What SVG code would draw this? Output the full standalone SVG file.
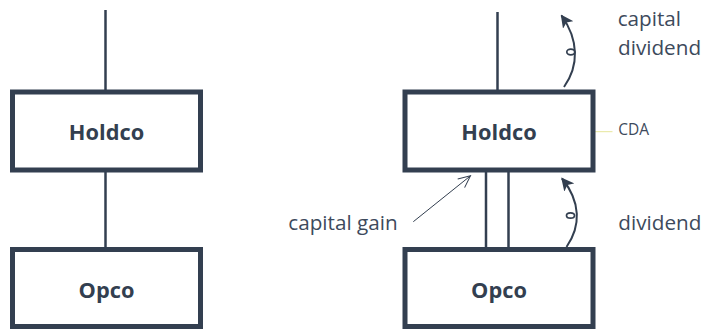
<svg xmlns="http://www.w3.org/2000/svg" width="705" height="329" viewBox="0 0 705 329">
<defs>
<style>
.box{fill:#fff;stroke:#333f50;stroke-width:5}
.name{font-family:"Open Sans","Noto Sans",sans-serif;font-weight:bold;font-size:21.8px;fill:#333f50;text-anchor:middle}
.lbl{font-family:"Open Sans","Noto Sans",sans-serif;font-size:20.7px;fill:#3d4a5c}
.small{font-family:"Open Sans","Noto Sans",sans-serif;font-size:15.5px;fill:#3d4a5c}
.tie{stroke:#333f50;stroke-width:2.5;fill:none}
.flow{stroke:#333f50;stroke-width:2;fill:none;marker-end:url(#head)}
.ring{stroke:#333f50;stroke-width:1.7;fill:none}
</style>
<marker id="head" viewBox="0 0 10 10" refX="9" refY="5" markerWidth="6.5" markerHeight="6.5" orient="auto" markerUnits="strokeWidth">
<path d="M0,0 L10,5 L0,10 L2.5,5 Z" fill="#333f50"/>
</marker>
<marker id="open" viewBox="0 0 14 14" refX="13" refY="7" markerWidth="14" markerHeight="14" orient="auto" markerUnits="userSpaceOnUse">
<path d="M1,1.5 L13,7 L1,12.5" fill="none" stroke="#333f50" stroke-width="1"/>
</marker>
</defs>
<g id="connectors">
<line class="tie" x1="105.5" y1="10" x2="105.5" y2="92"/>
<line class="tie" x1="105.5" y1="170" x2="105.5" y2="249.5"/>
<line class="tie" x1="497.5" y1="12" x2="497.5" y2="92"/>
<line class="tie" x1="486" y1="170" x2="486" y2="249.5"/>
<line class="tie" x1="508.5" y1="170" x2="508.5" y2="249.5"/>
<path class="flow" d="M564,87 C579,66 579,40 561.5,15.5"/>
<ellipse class="ring" cx="570.8" cy="52" rx="4" ry="2.8"/>
<path class="flow" d="M566.5,247 C581,226 581,202 562,178.5"/>
<ellipse class="ring" cx="570.5" cy="215.5" rx="4" ry="2.7"/>
<line x1="413.3" y1="221.7" x2="470.5" y2="175.8" stroke="#333f50" stroke-width="1" marker-end="url(#open)"/>
<line x1="595" y1="131.7" x2="612.5" y2="131.7" stroke="#e6e69a" stroke-width="1"/>
</g>
<g id="holdco-left">
<rect class="box" x="12.5" y="92" width="188" height="78"/>
<text class="name" x="106.5" y="140">Holdco</text>
</g>
<g id="opco-left">
<rect class="box" x="12.5" y="249.5" width="188" height="77"/>
<text class="name" x="106.5" y="298">Opco</text>
</g>
<g id="holdco-right">
<rect class="box" x="405" y="92" width="188" height="78"/>
<text class="name" x="499" y="139.5">Holdco</text>
</g>
<g id="opco-right">
<rect class="box" x="405" y="249.5" width="188" height="77"/>
<text class="name" x="499" y="298">Opco</text>
</g>
<g id="labels">
<text class="lbl" x="617.7" y="26">capital</text>
<text class="lbl" x="618" y="55">dividend</text>
<text class="small" x="618.3" y="135">CDA</text>
<text class="lbl" x="288.3" y="230">capital gain</text>
<text class="lbl" x="618.3" y="230">dividend</text>
</g>
</svg>
